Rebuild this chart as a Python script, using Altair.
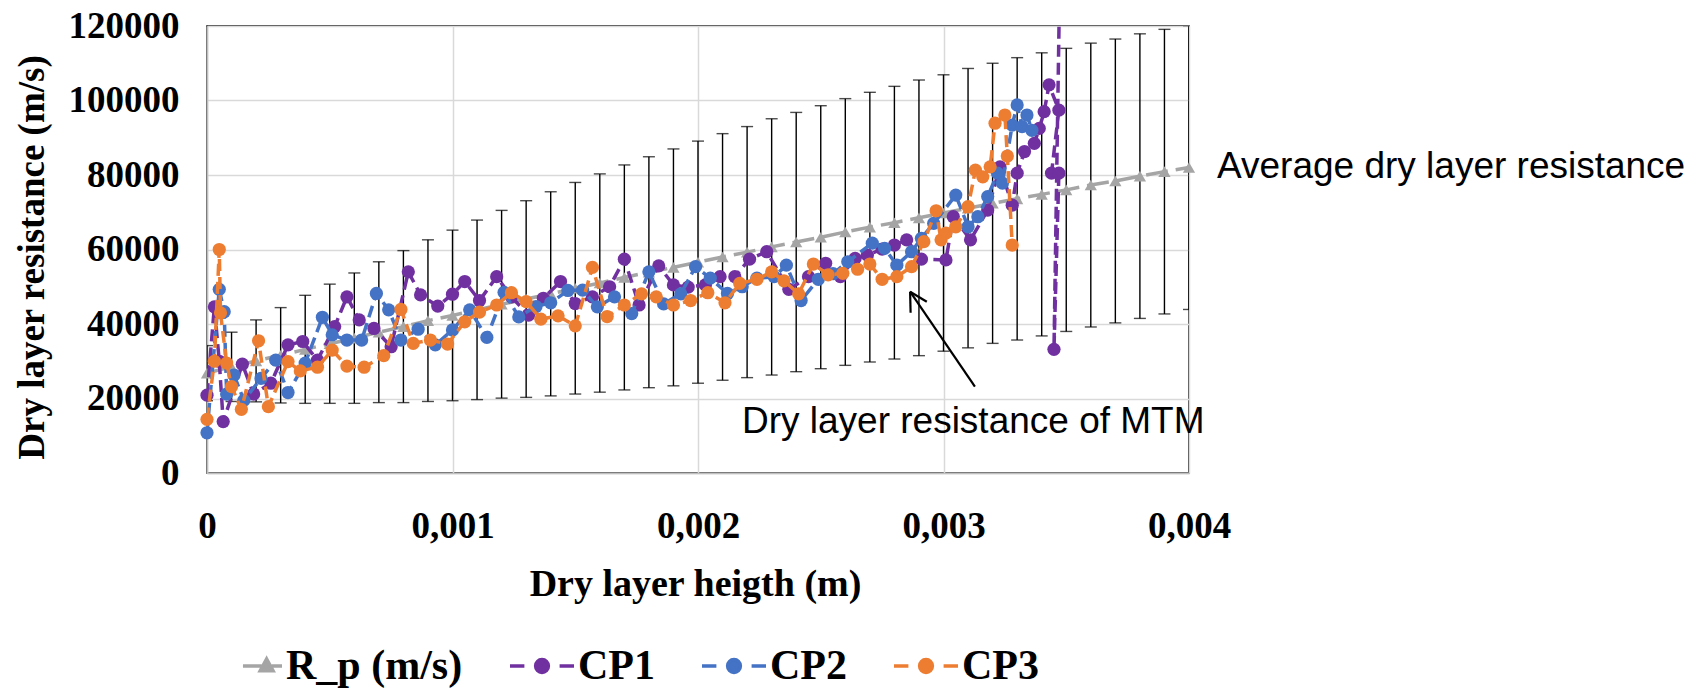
import altair as alt
import pandas as pd

# ---------------- data ----------------
rp_x = [0.0, 0.0001, 0.0002, 0.0003, 0.0004, 0.0005, 0.0006, 0.0007, 0.0008, 0.0009,
        0.0010, 0.0011, 0.0012, 0.0013, 0.0014, 0.0015, 0.0016, 0.0017, 0.0018, 0.0019,
        0.0020, 0.0021, 0.0022, 0.0023, 0.0024, 0.0025, 0.0026, 0.0027, 0.0028, 0.0029,
        0.0030, 0.0031, 0.0032, 0.0033, 0.0034, 0.0035, 0.0036, 0.0037, 0.0038, 0.0039,
        0.0040]
rp_mean = [26800, 28500, 30100, 31600, 33200, 34700, 36200, 37800, 39300, 40900,
           42300, 43800, 45300, 46700, 48100, 49600, 51000, 52500, 53900, 55200,
           56600, 58000, 59300, 60700, 62000, 63300, 64700, 66000, 67200, 68500,
           69800, 71100, 72400, 73600, 74800, 76000, 77300, 78400, 79700, 80900,
           82000]
rp_err = [7400, 9300, 11000, 12800, 14500, 16000, 17500, 18900, 20400, 21700,
          22900, 24100, 25200, 26400, 27400, 28400, 29300, 30200, 31000, 31800,
          32500, 33100, 33700, 34400, 34800, 35300, 35800, 36200, 36600, 37000,
          37100, 37500, 37600, 37900, 38000, 38000, 38100, 38100, 38200, 38200,
          38100]

cp1_x = [0.0, 0.00003, 0.00005, 0.000066, 0.000144, 0.00019, 0.00026, 0.00033, 0.00039, 0.00045,
         0.00052, 0.00057, 0.00062, 0.00068, 0.00075, 0.00082, 0.00087, 0.00094, 0.00100, 0.00105,
         0.00111, 0.00118, 0.00124, 0.00131, 0.00137, 0.00144, 0.00150, 0.00157, 0.00164, 0.00170,
         0.00176, 0.00184, 0.00190, 0.00196, 0.00203, 0.00209, 0.00215, 0.00221, 0.00228, 0.00237,
         0.00245, 0.00252, 0.00258, 0.00264, 0.00269, 0.00275, 0.00280, 0.00285, 0.00291, 0.00301,
         0.00304, 0.00311, 0.00318, 0.00323, 0.00328, 0.00330, 0.00333, 0.00337, 0.00339, 0.00341,
         0.00343, 0.00347, 0.00344, 0.00347, 0.00345, 0.00348]
cp1_y = [20900, 44600, 30000, 13800, 29200, 21200, 24100, 34400, 35300, 30300,
         39300, 47300, 41100, 38800, 33900, 54000, 47800, 44800, 48000, 51400,
         46300, 52700, 47300, 42400, 46900, 51400, 45500, 47300, 50000, 57400,
         45100, 55600, 50500, 49900, 50500, 52700, 52700, 57400, 59400, 49300,
         52700, 56300, 52700, 57600, 58500, 60100, 61200, 62600, 57400, 57200,
         68800, 62600, 70600, 82200, 71900, 80500, 86300, 88500, 92500, 97000,
         104200, 97400, 80500, 80500, 33200, 160000]

cp2_x = [0.0, 0.00005, 0.00007, 0.00008, 0.00011, 0.00015, 0.00022, 0.00028, 0.00033, 0.00040,
         0.00047, 0.00051, 0.00057, 0.00063, 0.00069, 0.00074, 0.00079, 0.00086, 0.00093, 0.00100,
         0.00107, 0.00114, 0.00121, 0.00127, 0.00134, 0.00140, 0.00147, 0.00153, 0.00159, 0.00166,
         0.00173, 0.00180, 0.00186, 0.00193, 0.00199, 0.00205, 0.00212, 0.00218, 0.00224, 0.00231,
         0.00236, 0.00242, 0.00249, 0.00255, 0.00261, 0.00271, 0.00276, 0.00281, 0.00287, 0.00291,
         0.00296, 0.00305, 0.00310, 0.00314, 0.00318, 0.00322, 0.00324, 0.00328, 0.00330, 0.00332,
         0.00334, 0.00336]
cp2_y = [10800, 49300, 43300, 21200, 26300, 19500, 25400, 30300, 21600, 29500,
         41800, 37100, 35700, 35700, 48200, 43800, 35700, 38600, 34400, 38400,
         43800, 36400, 48500, 41900, 44700, 45700, 49000, 49100, 44600, 47300,
         42800, 54000, 45400, 48100, 55400, 52300, 48200, 50000, 52300, 52700,
         55800, 46300, 52000, 53500, 56700, 61700, 60300, 55800, 59400, 63000,
         67000, 74600, 66100, 68800, 74200, 80500, 77800, 93400, 98800, 93000,
         96100, 92000]

cp3_x = [0.0, 0.00003, 0.00005, 0.000055, 0.00008, 0.00010, 0.00014, 0.00021, 0.00025, 0.00033,
         0.00038, 0.00045, 0.00051, 0.00057, 0.00064, 0.00072, 0.00079, 0.00084, 0.00091, 0.00098,
         0.00105, 0.00111, 0.00118, 0.00124, 0.00130, 0.00136, 0.00143, 0.00150, 0.00157, 0.00163,
         0.00170, 0.00177, 0.00183, 0.00190, 0.00197, 0.00204, 0.00211, 0.00217, 0.00224, 0.00230,
         0.00235, 0.00241, 0.00247, 0.00253, 0.00259, 0.00265, 0.00270, 0.00275, 0.00281, 0.00287,
         0.00292, 0.00297, 0.00299, 0.00301, 0.00305, 0.00310, 0.00313, 0.00316, 0.00319, 0.00321,
         0.00325, 0.00326, 0.00328]
cp3_y = [14400, 30000, 60000, 43000, 29500, 23200, 17100, 35500, 17800, 29900,
         27400, 28400, 33000, 28700, 28400, 31500, 43900, 34800, 35700, 34600,
         40600, 43200, 45100, 48400, 46000, 41300, 42200, 39500, 55200, 42000,
         45100, 48100, 47300, 45100, 46300, 48400, 45700, 50900, 52000, 54000,
         51600, 48100, 56100, 53200, 53600, 54700, 56100, 52000, 52700, 55400,
         62100, 70400, 62600, 64400, 66100, 71500, 81300, 79500, 82200, 93900,
         96100, 85100, 61200]

series_names = ["R_p (m/s)", "CP1", "CP2", "CP3"]
series_colors = ["#a5a5a5", "#7030a0", "#4472c4", "#ed7d31"]
CP_PATH = "M-1,0H-0.55M0.55,0H1M0,-0.2A0.2,0.2 0 1,1 0,0.2A0.2,0.2 0 1,1 0,-0.2Z"
legend_paths = [
    "M-0.22,0H0.36M0.68,0H1M0.52,-0.22L0.72,0.15L0.32,0.15Z",
    CP_PATH, CP_PATH, CP_PATH,
]

x_ticks = [0, 0.001, 0.002, 0.003, 0.004]
y_ticks = [0, 20000, 40000, 60000, 80000, 100000, 120000]

ann_text = ["Average dry layer resistance", "Dry layer resistance of MTM"]
ann_x = [0.004114, 0.002179]
ann_y = [79100, 10660]

arrow_x = [0.003128, 0.002864, 0.002864]
arrow_y = [23170, 48670, 48670]
arrow_x2 = [0.002864, 0.002866, 0.002932]
arrow_y2 = [48670, 43030, 45990]

# ---------------- tables ----------------
rp_df = pd.DataFrame({
    "x": rp_x, "y": rp_mean,
    "lo": [m - e for m, e in zip(rp_mean, rp_err)],
    "hi": [m + e for m, e in zip(rp_mean, rp_err)],
    "i": list(range(len(rp_x))),
})


def cp_df(xs, ys):
    return pd.DataFrame({"x": xs, "y": ys, "i": list(range(len(xs)))})


cp_dfs = [cp_df(cp1_x, cp1_y), cp_df(cp2_x, cp2_y), cp_df(cp3_x, cp3_y)]
legend_df = pd.DataFrame({"x": [0.0] * 4, "y": [0] * 4, "series": series_names})
ann_df = pd.DataFrame({"x": ann_x, "y": ann_y, "t": ann_text})
arrow_df = pd.DataFrame({"x": arrow_x, "y": arrow_y, "x2": arrow_x2, "y2": arrow_y2})

SERIF = "Liberation Serif"
SANS = "Liberation Sans"

xscale = alt.Scale(domain=[0, 0.004], nice=False, zero=False)
yscale = alt.Scale(domain=[0, 120000], nice=False, zero=False)

x_axis = alt.Axis(
    values=x_ticks, labelExpr="replace(toString(datum.value), '.', ',')",
    title="Dry layer heigth (m)", grid=True, ticks=False,
    labelPadding=35, labelFontSize=37, labelFont=SERIF, labelFontWeight="bold",
    labelColor="black", labelOverlap=False, labelFlush=False,
    titleFont=SERIF, titleFontSize=38, titleFontWeight="bold", titleColor="black",
    titleX=488, titleY=111, titleBaseline="middle", titleAnchor="middle",
    domainColor="#bfbfbf", domainWidth=1.5, gridColor="#d9d9d9", gridWidth=1.5,
)
y_axis = alt.Axis(
    values=y_ticks, format="d", title="Dry layer resistance (m/s)", grid=True,
    ticks=False, labelPadding=28, labelFontSize=37, labelFont=SERIF,
    labelFontWeight="bold", labelColor="black", labelOverlap=False,
    labelBaseline="middle",
    titleFont=SERIF, titleFontSize=37, titleFontWeight="bold", titleColor="black",
    titleX=-175, titleY=231, titleBaseline="middle", titleAngle=-90, titleAlign="center",
    domainColor="#bfbfbf", domainWidth=1.5, gridColor="#d9d9d9", gridWidth=1.5,
)


def X(field="x"):
    return alt.X(f"{field}:Q", scale=xscale, axis=x_axis)


def Y(field="y"):
    return alt.Y(f"{field}:Q", scale=yscale, axis=y_axis)


layers = []

# error bars
err = alt.Chart(rp_df).mark_rule(color="black", strokeWidth=1.4, clip=True).encode(
    x=X("x"), y=Y("lo"), y2="hi:Q")
cap_lo = alt.Chart(rp_df).mark_tick(color="black", orient="horizontal", size=12,
                                    thickness=1.4, clip=True).encode(x=X(), y=Y("lo"))
cap_hi = alt.Chart(rp_df).mark_tick(color="black", orient="horizontal", size=12,
                                    thickness=1.4, clip=True).encode(x=X(), y=Y("hi"))
layers += [err, cap_lo, cap_hi]

# R_p line + triangles
layers.append(alt.Chart(rp_df).mark_line(color=series_colors[0], strokeWidth=3.5,
                                         strokeDash=[22, 8], clip=True).encode(
    x=X(), y=Y(), order="i:Q"))
layers.append(alt.Chart(rp_df).mark_point(color=series_colors[0], filled=True, opacity=1,
                                          shape="triangle-up", size=150).encode(x=X(), y=Y()))

# CP series
for df, col in zip(cp_dfs, series_colors[1:]):
    layers.append(alt.Chart(df).mark_line(color=col, strokeWidth=3.5, strokeDash=[12, 6],
                                          clip=True).encode(x=X(), y=Y(), order="i:Q"))
    layers.append(alt.Chart(df).mark_point(color=col, filled=True, opacity=1, shape="circle",
                                           size=175).encode(x=X(), y=Y()))

# annotations
layers.append(alt.Chart(ann_df).mark_text(font=SANS, fontSize=37, align="left",
                                          baseline="alphabetic", color="black").encode(
    x=X(), y=Y(), text="t:N"))
layers.append(alt.Chart(arrow_df).mark_rule(color="black", strokeWidth=2.2).encode(
    x=X(), y=Y(), x2="x2:Q", y2="y2:Q"))

# legend carrier (no visible marks)
leg = alt.Legend(title=None, orient="none", legendX=9, legendY=606, direction="horizontal",
                 symbolSize=4096, symbolStrokeWidth=3.5, labelFont=SERIF,
                 labelFontWeight="bold", labelFontSize=42, labelColor="black",
                 labelLimit=500, labelOffset=2, columnPadding=40, symbolOffset=0)
layers.append(alt.Chart(legend_df).transform_filter("datum.x < -1").mark_point(
    filled=True, opacity=1).encode(
    x=X(), y=Y(),
    fill=alt.Fill("series:N", scale=alt.Scale(domain=series_names, range=series_colors), legend=leg),
    stroke=alt.Stroke("series:N", scale=alt.Scale(domain=series_names, range=series_colors), legend=leg),
    shape=alt.Shape("series:N", scale=alt.Scale(domain=series_names, range=legend_paths), legend=leg),
))

chart = alt.layer(*layers).properties(
    width=982, height=447,
    padding={"left": 207, "top": 26, "right": 515, "bottom": 215},
    autosize=alt.AutoSizeParams(type="none"),
    background="white",
).configure_view(stroke="black", strokeWidth=1.5)

chart.save("out.html", embed_options={"renderer": "svg", "actions": False})
